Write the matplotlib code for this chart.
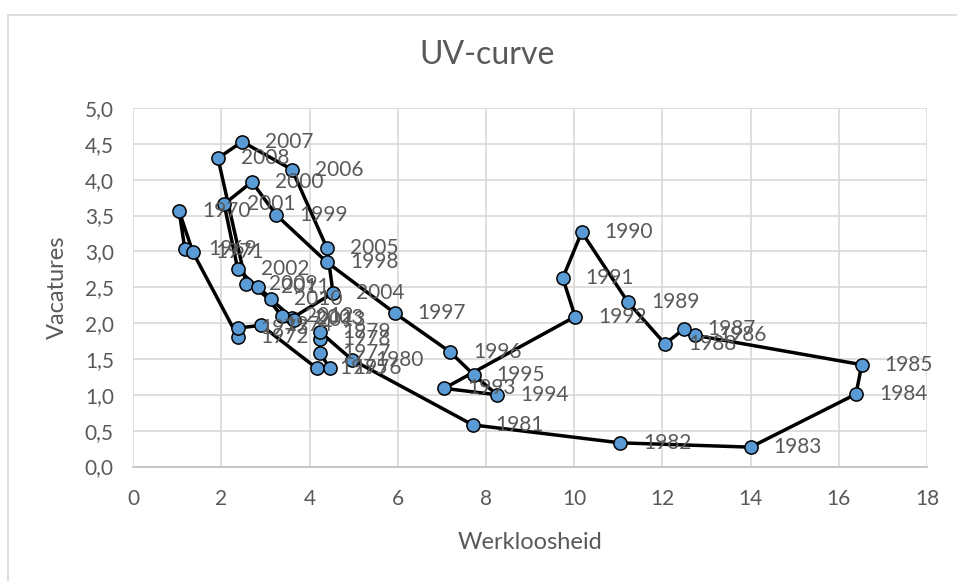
import matplotlib.pyplot as plt
from matplotlib.patches import Rectangle

# UV-curve data: unemployment (Werkloosheid) vs vacancies (Vacatures), 1969-2013
years = list(range(1969, 2014))
werkloosheid = [
    1.17, 1.04, 1.35, 2.37, 2.37, 2.90, 4.16, 4.46, 4.23, 4.23,
    4.23, 4.96, 7.70, 11.04, 14.00, 16.39, 16.52, 12.74, 12.49, 12.06,
    11.22, 10.17, 9.74, 10.02, 7.05, 8.25, 7.72, 7.18, 5.93, 4.39,
    3.24, 2.69, 2.06, 2.37, 3.60, 4.53, 4.39, 3.60, 2.47, 1.92,
    2.56, 3.12, 2.83, 3.37, 3.64,
]
vacatures = [
    3.03, 3.56, 2.99, 1.81, 1.93, 1.97, 1.37, 1.37, 1.58, 1.78,
    1.88, 1.49, 0.58, 0.33, 0.27, 1.01, 1.42, 1.83, 1.92, 1.71,
    2.29, 3.27, 2.63, 2.09, 1.09, 1.00, 1.28, 1.60, 2.14, 2.85,
    3.51, 3.97, 3.66, 2.75, 2.07, 2.42, 3.05, 4.14, 4.53, 4.30,
    2.55, 2.34, 2.50, 2.10, 2.04,
]

x_ticks = list(range(0, 19, 2))
y_ticks = [i * 0.5 for i in range(11)]
y_ticklabels = [f"{v:.1f}".replace(".", ",") for v in y_ticks]

plt.rcParams['font.family'] = ['Lato', 'DejaVu Sans']

W, H = 957, 581
fig = plt.figure(figsize=(W / 100, H / 100), dpi=100)

# outer chart frame (Excel style)
fig.patches.append(Rectangle((8 / W, -0.1), 1.2, 1 - 15 / H + 0.1,
                             transform=fig.transFigure, fill=False,
                             edgecolor='#d9d9d9', linewidth=1.2))

ax = fig.add_axes([133.3 / W, 1 - 466.5 / H, (927 - 133.3) / W, (466.5 - 108) / H])

ax.plot(werkloosheid, vacatures, color='black', linewidth=2.5, zorder=3,
        marker='o', markersize=9.5, markerfacecolor='#5B9BD5',
        markeredgecolor='black', markeredgewidth=1.1)

for yr, xv, yv in zip(years, werkloosheid, vacatures):
    ax.annotate(str(yr), (xv, yv), xytext=(16.5, 0), textcoords='offset points',
                ha='left', va='center', fontsize=15, color='#595959', zorder=5)

ax.set_xlim(0, 18)
ax.set_ylim(0, 5)
ax.set_xticks(x_ticks)
ax.set_yticks(y_ticks)
ax.set_yticklabels(y_ticklabels)
ax.tick_params(length=0, labelsize=15, labelcolor='#595959')
ax.tick_params(axis='x', pad=16)
ax.tick_params(axis='y', pad=14)
ax.grid(True, color='#d9d9d9', linewidth=1.2, zorder=0)
ax.set_axisbelow(True)
for side in ['top', 'right', 'left']:
    ax.spines[side].set_visible(False)
ax.spines['bottom'].set_color('#bfbfbf')
ax.spines['bottom'].set_linewidth(1.2)

ax.set_xlabel('Werkloosheid', fontsize=17, color='#595959', labelpad=17)
ax.set_ylabel('Vacatures', fontsize=17, color='#595959', labelpad=12)
fig.text(487 / W, 1 - 55 / H, 'UV-curve', ha='center', va='center',
         fontsize=23, color='#595959')

fig.savefig('out.png', dpi=100)
